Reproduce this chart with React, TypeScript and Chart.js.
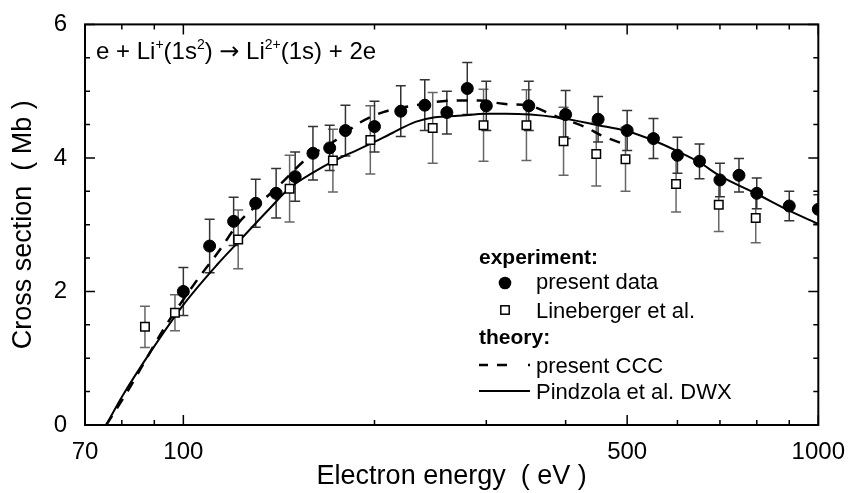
import React, { useEffect, useRef } from "react";
import { Chart, registerables } from "chart.js";

Chart.register(...registerables);

// ---------- data ----------
const presentE = [100, 110, 120, 130, 140, 150, 160, 170, 180, 200, 220, 240, 260, 280, 300, 350, 400, 450, 500, 550, 600, 650, 700, 750, 800, 900, 1000];
const presentSigma = [2.0, 2.68, 3.05, 3.32, 3.47, 3.72, 4.07, 4.15, 4.41, 4.47, 4.7, 4.79, 4.68, 5.04, 4.78, 4.78, 4.65, 4.58, 4.41, 4.29, 4.04, 3.95, 3.67, 3.74, 3.47, 3.28, 3.23];
const presentErr = [0.36, 0.4, 0.36, 0.36, 0.37, 0.37, 0.4, 0.34, 0.38, 0.38, 0.38, 0.38, 0.32, 0.39, 0.37, 0.37, 0.36, 0.34, 0.3, 0.3, 0.27, 0.26, 0.25, 0.25, 0.23, 0.22, 0.22];

const linebergerE = [87, 97, 122, 147, 172, 197, 247, 297, 347, 397, 447, 497, 597, 697, 797];
const linebergerSigma = [1.47, 1.68, 2.78, 3.54, 3.96, 4.27, 4.45, 4.49, 4.49, 4.25, 4.06, 3.98, 3.61, 3.3, 3.1];
const linebergerErr = [0.31, 0.27, 0.44, 0.5, 0.47, 0.51, 0.53, 0.54, 0.53, 0.51, 0.48, 0.48, 0.42, 0.4, 0.37];

const cccE = [75.6, 80.9, 94, 100, 106.6, 113.5, 123, 134, 143, 156, 174, 189, 207, 229, 268, 293, 319, 352, 382, 430, 457, 490];
const cccSigma = [0, 0.44, 1.5, 1.88, 2.25, 2.59, 3.06, 3.38, 3.63, 3.98, 4.27, 4.52, 4.69, 4.78, 4.86, 4.86, 4.81, 4.78, 4.64, 4.46, 4.33, 4.22];

const dwxE = [75.6, 80, 89, 100, 113, 122, 137, 147, 160, 172, 184, 197, 213, 232, 249, 271, 300, 322, 386, 450, 500, 554, 600, 648, 700, 800, 900, 1000];
const dwxSigma = [0, 0.42, 1.11, 1.8, 2.4, 2.74, 3.25, 3.55, 3.78, 3.95, 4.08, 4.21, 4.37, 4.54, 4.61, 4.63, 4.66, 4.66, 4.61, 4.49, 4.4, 4.25, 4.1, 3.94, 3.73, 3.46, 3.21, 3.01];

// ---------- axes ----------
const xTickValues = [70, 100, 500, 1000];
const xTickLabels = ["70", "100", "500", "1000"];
const xMinorTicks = [80, 90, 200, 300, 400, 600, 700, 800, 900];
const yTickValues = [0, 2, 4, 6];
const yTickLabels = ["0", "2", "4", "6"];
const yMinorTicks = [0.5, 1, 1.5, 2.5, 3, 3.5, 4.5, 5, 5.5];

const FONT = "'Liberation Sans', Arial, Helvetica, sans-serif";

const errorBarPlugin = {
  id: "errorBars",
  beforeDatasetsDraw(chart: any) {
    const { ctx, chartArea: a, scales } = chart;
    const xs = scales.x;
    const ys = scales.y;
    ctx.save();
    ctx.beginPath();
    ctx.rect(a.left, a.top, a.right - a.left, a.bottom - a.top);
    ctx.clip();
    const draw = (es: number[], vs: number[], errs: number[], color: string) => {
      ctx.strokeStyle = color;
      ctx.lineWidth = 1.5;
      const cap = 5;
      es.forEach((e, i) => {
        const px = xs.getPixelForValue(e);
        const top = ys.getPixelForValue(vs[i] + errs[i]);
        const bot = ys.getPixelForValue(vs[i] - errs[i]);
        ctx.beginPath();
        ctx.moveTo(px, top);
        ctx.lineTo(px, bot);
        ctx.moveTo(px - cap, top);
        ctx.lineTo(px + cap, top);
        ctx.moveTo(px - cap, bot);
        ctx.lineTo(px + cap, bot);
        ctx.stroke();
      });
    };
    draw(linebergerE, linebergerSigma, linebergerErr, "#666");
    draw(presentE, presentSigma, presentErr, "#333");
    ctx.restore();
  },
};

const framePlugin = {
  id: "frameTicks",
  afterDatasetsDraw(chart: any) {
    const { ctx, chartArea: a, scales } = chart;
    const xs = scales.x;
    const ys = scales.y;
    ctx.save();
    ctx.strokeStyle = "#000";
    ctx.lineWidth = 1.5;
    const major = 10;
    const minor = 5;
    const xt = (v: number, len: number) => {
      const px = xs.getPixelForValue(v);
      ctx.beginPath();
      ctx.moveTo(px, a.bottom);
      ctx.lineTo(px, a.bottom - len);
      ctx.moveTo(px, a.top);
      ctx.lineTo(px, a.top + len);
      ctx.stroke();
    };
    const yt = (v: number, len: number) => {
      const py = ys.getPixelForValue(v);
      ctx.beginPath();
      ctx.moveTo(a.left, py);
      ctx.lineTo(a.left + len, py);
      ctx.moveTo(a.right, py);
      ctx.lineTo(a.right - len, py);
      ctx.stroke();
    };
    xTickValues.forEach((v) => xt(v, major));
    xMinorTicks.forEach((v) => xt(v, minor));
    yTickValues.forEach((v) => yt(v, major));
    yMinorTicks.forEach((v) => yt(v, minor));
    ctx.lineWidth = 2;
    ctx.strokeRect(a.left, a.top, a.right - a.left, a.bottom - a.top);
    ctx.restore();
  },
};

const textPlugin = {
  id: "annoLegend",
  afterDraw(chart: any) {
    const { ctx } = chart;
    ctx.save();
    ctx.fillStyle = "#000";
    ctx.textBaseline = "alphabetic";
    ctx.textAlign = "left";

    // reaction annotation: [text, kind] kind 0 normal, 1 superscript, 2 arrow
    const parts: [string, number][] = [
      ["e + Li", 0],
      ["+", 1],
      ["(1s", 0],
      ["2", 1],
      [") ", 0],
      ["\u2192", 2],
      [" Li", 0],
      ["2+", 1],
      ["(1s) + 2e", 0],
    ];
    let x = 96;
    const base = 59;
    parts.forEach(([t, kind]) => {
      if (kind === 1) ctx.font = `14px ${FONT}`;
      else if (kind === 2) ctx.font = `24px 'DejaVu Sans', sans-serif`;
      else ctx.font = `24px ${FONT}`;
      ctx.fillText(t, x, kind === 1 ? base - 10 : base);
      x += ctx.measureText(t).width;
    });

    // legend
    const lx = 479;
    const tx = 536;
    const mx = 505;
    ctx.font = `bold 21px ${FONT}`;
    ctx.fillText("experiment:", lx, 264);
    ctx.fillText("theory:", lx, 344);
    ctx.font = `22px ${FONT}`;
    ctx.fillText("present data", tx, 289);
    ctx.fillText("Lineberger et al.", tx, 318);
    ctx.fillText("present CCC", tx, 372.5);
    ctx.fillText("Pindzola et al. DWX", tx, 399);

    // markers
    ctx.beginPath();
    ctx.arc(mx, 283, 6.3, 0, Math.PI * 2);
    ctx.fill();
    ctx.fillStyle = "#fff";
    ctx.strokeStyle = "#000";
    ctx.lineWidth = 1.5;
    ctx.fillRect(mx - 4.2, 310 - 4.2, 8.4, 8.4);
    ctx.strokeRect(mx - 4.2, 310 - 4.2, 8.4, 8.4);

    // line samples
    ctx.lineWidth = 2.5;
    ctx.beginPath();
    ctx.moveTo(479, 365);
    ctx.lineTo(488, 365);
    ctx.moveTo(497, 365);
    ctx.lineTo(507, 365);
    ctx.moveTo(528, 365);
    ctx.lineTo(530, 365);
    ctx.stroke();
    ctx.lineWidth = 2;
    ctx.beginPath();
    ctx.moveTo(479, 391);
    ctx.lineTo(530, 391);
    ctx.stroke();
    ctx.restore();
  },
};

export default function App() {
  const ref = useRef<HTMLCanvasElement | null>(null);

  useEffect(() => {
    document.body.style.margin = "0";
    const canvas = ref.current;
    if (!canvas) return;
    Chart.defaults.font.family = FONT;
    Chart.defaults.color = "#000";

    const chart = new Chart(canvas, {
      type: "line",
      data: {
        datasets: [
          {
            label: "present data",
            data: presentE.map((e, i) => ({ x: e, y: presentSigma[i] })),
            showLine: false,
            pointStyle: "circle",
            pointRadius: 6,
            pointBackgroundColor: "#000",
            pointBorderColor: "#000",
            pointBorderWidth: 1,
            order: 0,
            clip: 0,
          },
          {
            label: "Lineberger et al.",
            data: linebergerE.map((e, i) => ({ x: e, y: linebergerSigma[i] })),
            showLine: false,
            pointStyle: "rect",
            pointRadius: 6,
            pointBackgroundColor: "#fff",
            pointBorderColor: "#000",
            pointBorderWidth: 1.5,
            order: 1,
            clip: 0,
          },
          {
            label: "present CCC",
            data: cccE.map((e, i) => ({ x: e, y: cccSigma[i] })),
            borderColor: "#000",
            borderWidth: 2.5,
            borderDash: [11, 9],
            pointRadius: 0,
            fill: false,
            cubicInterpolationMode: "monotone",
            order: 2,
            clip: 0,
          },
          {
            label: "Pindzola et al. DWX",
            data: dwxE.map((e, i) => ({ x: e, y: dwxSigma[i] })),
            borderColor: "#000",
            borderWidth: 2,
            pointRadius: 0,
            fill: false,
            cubicInterpolationMode: "monotone",
            order: 3,
            clip: 0,
          },
        ] as any,
      },
      options: {
        responsive: false,
        animation: false,
        devicePixelRatio: 1,
        layout: { padding: { top: 20, right: 28, left: 0, bottom: 0 } },
        plugins: { legend: { display: false }, tooltip: { enabled: false } },
        scales: {
          x: {
            type: "logarithmic",
            min: 70,
            max: 1000,
            grid: { display: false },
            border: { display: false },
            afterBuildTicks: (s: any) => {
              s.ticks = xTickValues.map((v) => ({ value: v }));
            },
            afterFit: (s: any) => {
              s.height = 68;
            },
            ticks: {
              autoSkip: false,
              maxRotation: 0,
              padding: 5,
              color: "#000",
              font: { size: 24, family: FONT },
              callback: (v: any) => {
                const i = xTickValues.indexOf(Number(v));
                return i >= 0 ? xTickLabels[i] : "";
              },
            },
            title: {
              display: true,
              text: "Electron energy  ( eV )",
              color: "#000",
              font: { size: 27, family: FONT },
              padding: { top: 0, bottom: 0 },
            },
          },
          y: {
            type: "linear",
            min: 0,
            max: 6,
            grid: { display: false },
            border: { display: false },
            afterBuildTicks: (s: any) => {
              s.ticks = yTickValues.map((v) => ({ value: v }));
            },
            afterFit: (s: any) => {
              s.width = 85;
            },
            ticks: {
              autoSkip: false,
              padding: 10,
              color: "#000",
              font: { size: 24, family: FONT },
              callback: (v: any) => {
                const i = yTickValues.indexOf(Number(v));
                return i >= 0 ? yTickLabels[i] : "";
              },
            },
            title: {
              display: true,
              text: "Cross section  ( Mb )",
              color: "#000",
              font: { size: 27, family: FONT },
              padding: { top: 7, bottom: 0 },
            },
          },
        },
      } as any,
      plugins: [errorBarPlugin, framePlugin, textPlugin],
    });
    return () => chart.destroy();
  }, []);

  return (
    <div style={{ width: 850, height: 493 }}>
      <canvas ref={ref} width={850} height={493} style={{ width: 850, height: 493, display: "block" }} />
    </div>
  );
}
